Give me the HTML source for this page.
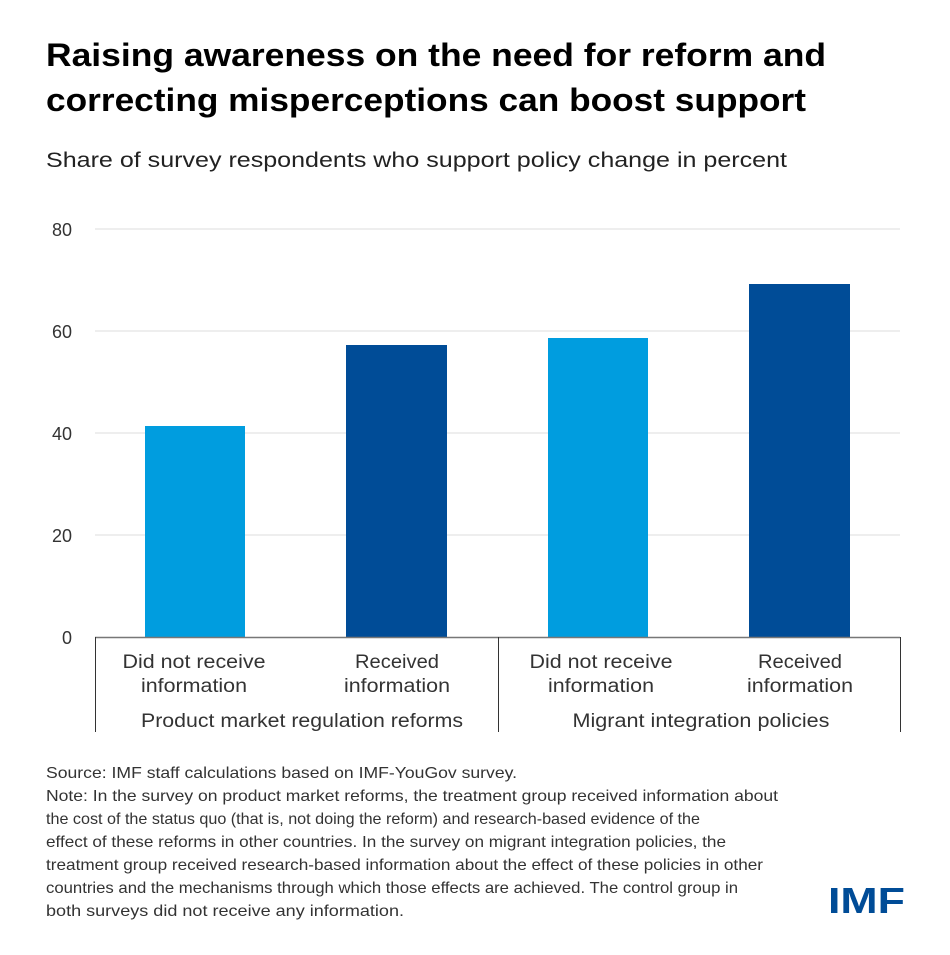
<!DOCTYPE html>
<html><head><meta charset="utf-8"><style>
body{margin:0;background:#fff;width:950px;height:950px;overflow:hidden}
</style></head><body>
<svg width="950" height="950" xmlns="http://www.w3.org/2000/svg" font-family="Liberation Sans, sans-serif">
<text x="46" y="66" font-size="32" font-weight="bold" fill="#000" textLength="780" lengthAdjust="spacingAndGlyphs">Raising awareness on the need for reform and</text>
<text x="46" y="111" font-size="32" font-weight="bold" fill="#000" textLength="760" lengthAdjust="spacingAndGlyphs">correcting misperceptions can boost support</text>
<text x="46" y="167" font-size="21" fill="#222" textLength="741" lengthAdjust="spacingAndGlyphs">Share of survey respondents who support policy change in percent</text>
<g stroke="#dcdcdc" stroke-width="1">
<line x1="95" y1="229" x2="900" y2="229"/>
<line x1="95" y1="331" x2="900" y2="331"/>
<line x1="95" y1="433" x2="900" y2="433"/>
<line x1="95" y1="535" x2="900" y2="535"/>
</g>
<g font-size="18" fill="#333" text-anchor="end">
<text x="72" y="236">80</text>
<text x="72" y="338">60</text>
<text x="72" y="440">40</text>
<text x="72" y="542">20</text>
<text x="72" y="644">0</text>
</g>
<rect x="145" y="426" width="100" height="211" fill="#009ddf"/>
<rect x="346" y="345" width="101" height="292" fill="#004c97"/>
<rect x="548" y="338" width="100" height="299" fill="#009ddf"/>
<rect x="749" y="284" width="101" height="353" fill="#004c97"/>
<line x1="95" y1="637.5" x2="900" y2="637.5" stroke="#777" stroke-width="1.5"/>
<g stroke="#333" stroke-width="1">
<line x1="95.5" y1="637" x2="95.5" y2="732"/>
<line x1="498.5" y1="637" x2="498.5" y2="732"/>
<line x1="900.5" y1="637" x2="900.5" y2="732"/>
</g>
<g font-size="19" fill="#333" text-anchor="middle">
<text x="194" y="668" textLength="143" lengthAdjust="spacingAndGlyphs">Did not receive</text>
<text x="194" y="692" textLength="106" lengthAdjust="spacingAndGlyphs">information</text>
<text x="397" y="668" textLength="84" lengthAdjust="spacingAndGlyphs">Received</text>
<text x="397" y="692" textLength="106" lengthAdjust="spacingAndGlyphs">information</text>
<text x="601" y="668" textLength="143" lengthAdjust="spacingAndGlyphs">Did not receive</text>
<text x="601" y="692" textLength="106" lengthAdjust="spacingAndGlyphs">information</text>
<text x="800" y="668" textLength="84" lengthAdjust="spacingAndGlyphs">Received</text>
<text x="800" y="692" textLength="106" lengthAdjust="spacingAndGlyphs">information</text>
<text x="302" y="727" textLength="322" lengthAdjust="spacingAndGlyphs">Product market regulation reforms</text>
<text x="701" y="727" textLength="257" lengthAdjust="spacingAndGlyphs">Migrant integration policies</text>
</g>
<g font-size="16" fill="#333">
<text x="46" y="778" textLength="471" lengthAdjust="spacingAndGlyphs">Source: IMF staff calculations based on IMF-YouGov survey.</text>
<text x="46" y="801" textLength="732" lengthAdjust="spacingAndGlyphs">Note: In the survey on product market reforms, the treatment group received information about</text>
<text x="46" y="824" textLength="654" lengthAdjust="spacingAndGlyphs">the cost of the status quo (that is, not doing the reform) and research-based evidence of the</text>
<text x="46" y="847" textLength="680" lengthAdjust="spacingAndGlyphs">effect of these reforms in other countries. In the survey on migrant integration policies, the</text>
<text x="46" y="870" textLength="717" lengthAdjust="spacingAndGlyphs">treatment group received research-based information about the effect of these policies in other</text>
<text x="46" y="893" textLength="692" lengthAdjust="spacingAndGlyphs">countries and the mechanisms through which those effects are achieved. The control group in</text>
<text x="46" y="916" textLength="358" lengthAdjust="spacingAndGlyphs">both surveys did not receive any information.</text>
</g>
<text x="828" y="913" font-size="36" font-weight="bold" fill="#004c97" textLength="77" lengthAdjust="spacingAndGlyphs">IMF</text>
</svg>
</body></html>
